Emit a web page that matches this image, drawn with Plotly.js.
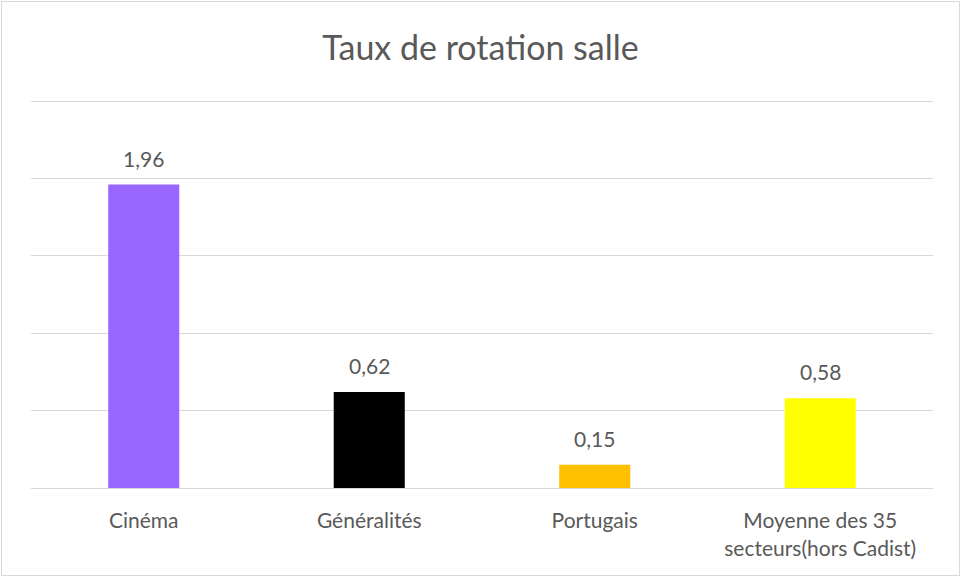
<!DOCTYPE html>
<html>
<head>
<meta charset="utf-8">
<script src="https://cdn.plot.ly/plotly-3.0.1.min.js"></script>
<style>
  html, body { margin: 0; padding: 0; background: #fff; }
  #wrap { position: relative; width: 961px; height: 577px; }
  #chart { width: 961px; height: 577px; }
  #frame { position: absolute; left: 1px; top: 1px; width: 957px; height: 573px; border: 1px solid #D9D9D9; pointer-events: none; }
</style>
</head>
<body>
<div id="wrap">
  <div id="chart"></div>
  <div id="frame"></div>
</div>
<script>
const categories = ["Cinéma", "Généralités", "Portugais", "Moyenne des 35<br>secteurs(hors Cadist)"];
const values = [1.96, 0.62, 0.15, 0.58];
const barColors = ["#9966FF", "#000000", "#FFC000", "#FFFF00"];
const chartTitle = "Taux de rotation salle";
const gridTicks = [0, 0.5, 1, 1.5, 2, 2.5];

const fontFamily = "Lato, 'Open Sans', sans-serif";
const textColor = "#595959";

const trace = {
  type: "bar",
  x: categories,
  y: values,
  marker: { color: barColors, line: { width: 0 } },
  hoverinfo: "none"
};

const annotations = categories.map((c, i) => ({
  x: c,
  y: values[i],
  xref: "x",
  yref: "y",
  text: values[i].toFixed(2).replace(".", ","),
  showarrow: false,
  yanchor: "bottom",
  yshift: 12,
  font: { family: fontFamily, size: 21, color: textColor }
}));

const layout = {
  width: 961,
  height: 577,
  margin: { l: 31, r: 28, t: 99, b: 89 },
  paper_bgcolor: "#FFFFFF",
  plot_bgcolor: "#FFFFFF",
  showlegend: false,
  bargap: 0.685,
  title: {
    text: chartTitle,
    font: { family: fontFamily, size: 34, color: textColor },
    x: 0.5,
    xanchor: "center",
    y: 1 - 48 / 577,
    yanchor: "middle"
  },
  xaxis: {
    type: "category",
    showgrid: false,
    showline: true,
    linecolor: "#D9D9D9",
    linewidth: 1,
    ticks: "",
    ticklabelstandoff: 14,
    tickfont: { family: fontFamily, size: 21, color: textColor },
    fixedrange: true
  },
  yaxis: {
    range: [0, 2.513],
    tickmode: "array",
    tickvals: gridTicks,
    showgrid: true,
    gridcolor: "#D9D9D9",
    gridwidth: 1,
    showticklabels: false,
    zeroline: false,
    showline: false,
    ticks: "",
    fixedrange: true
  },
  annotations: annotations
};

Plotly.newPlot("chart", [trace], layout, { displayModeBar: false, staticPlot: true });
</script>
</body>
</html>
